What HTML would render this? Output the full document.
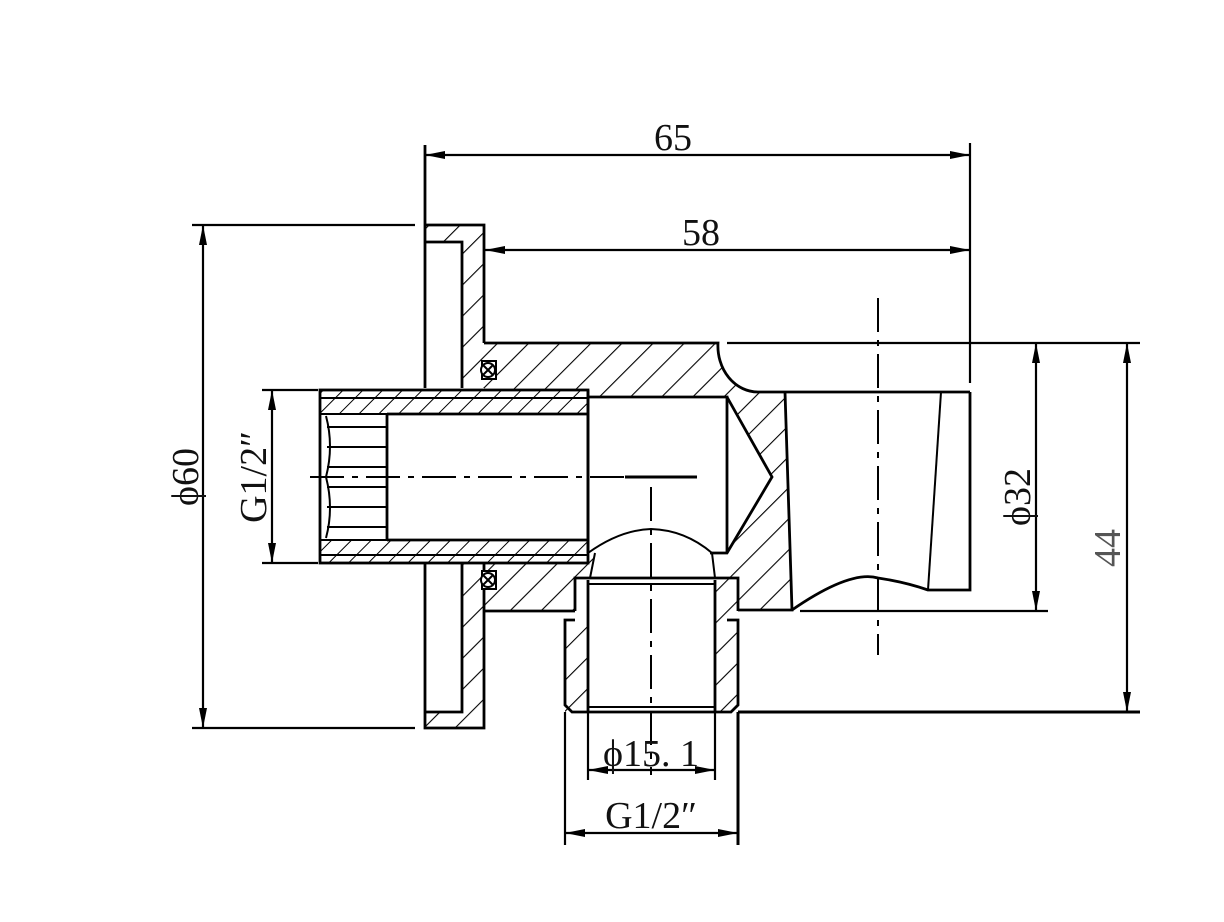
<!DOCTYPE html>
<html><head><meta charset="utf-8"><style>
html,body{margin:0;padding:0;background:#fff;}
svg{display:block;}
text{font-family:"Liberation Serif","Noto Serif CJK SC",serif;fill:#111;}
</style></head><body>
<svg width="1224" height="922" viewBox="0 0 1224 922" xmlns="http://www.w3.org/2000/svg">
<defs>
<pattern id="h" width="22" height="22" patternUnits="userSpaceOnUse" patternTransform="rotate(45)">
<line x1="0" y1="0" x2="0" y2="22" stroke="#000" stroke-width="2.2"/>
</pattern>
<pattern id="h2" width="14" height="14" patternUnits="userSpaceOnUse" patternTransform="rotate(45)">
<line x1="0" y1="0" x2="0" y2="14" stroke="#000" stroke-width="2"/>
</pattern>
<marker id="a" viewBox="0 0 20 8" refX="20" refY="4" markerWidth="20" markerHeight="8" markerUnits="userSpaceOnUse" orient="auto-start-reverse">
<path d="M0,0 L20,4 L0,8 z" fill="#000"/>
</marker>
</defs>

<g fill="url(#h)" stroke="none">
<path d="M425,225 H484 V388 H462 V242 H425 z"/>
<path d="M462,563 H484 V728 H425 V712 H462 z"/>
<path d="M484,343 H718 A40,46 0 0 0 758,392 H785 L792,610 H738 V578 H727 V553 L772,477 L727,397 H588 V390 H484 z"/>
<path d="M484,563 H588 V553 H595 L590,578 H575 V611 H484 z"/>
<path d="M565,620 H588 V712 H565 z"/>
<path d="M715,578 H738 V712 H715 z"/>
</g>
<g fill="url(#h2)" stroke="none">
<path d="M320,390 H588 V414 H387 V415 H320 z"/>
<path d="M320,540 H588 V563 H320 z"/>
</g>

<g stroke="#000" stroke-width="2.8" fill="none" stroke-linejoin="miter">
<path d="M425,225 H484 V343"/>
<path d="M425,145 V388"/>
<path d="M425,242 H462 V388"/>
<path d="M484,563 V728 H425 V563"/>
<path d="M425,712 H462 V563"/>
<path d="M484,343 H718 A40,46 0 0 0 758,392 H970"/>
<path d="M785,392 L792,610 H738"/>
<path d="M792,610 Q850,570 878,578 Q905,582 928,590 H970 V392"/>
<path d="M941,392 L928,590" stroke-width="2"/>
<path d="M588,397 H727 V553"/>
<path d="M727,397 L772,477 L727,553 H710"/>
<path d="M588,390 V553"/>
<path d="M484,611 H575"/>
<path d="M588,553 Q620,530 651,529 Q685,530 712,553 L715,578" stroke-width="2"/>
<path d="M595,553 L590,578" stroke-width="2"/>
<rect x="320" y="390" width="268" height="173"/>
<path d="M320,398 H588 M320,555 H588" stroke-width="2"/>
<path d="M387,414 H588 M387,540 H588 M387,414 V540"/>
<path d="M320,414 H387 M320,540 H387" stroke-width="2"/>
<path d="M327,427 H387 M327,447 H387 M327,467 H387 M327,487 H387 M327,507 H387 M327,527 H387" stroke-width="2"/>
<path d="M326,416 Q334,446 326,477 Q334,508 326,538" stroke-width="2"/>
<path d="M575,611 V578 H738 V611"/>
<path d="M588,580 V712 M715,580 V712"/>
<path d="M588,584 H715" stroke-width="2"/>
<path d="M575,620 H565 V705 L572,712 H731 L738,705 V620 H727" />
<path d="M588,707 H715" stroke-width="2"/>
</g>
<!-- o-rings -->
<g stroke="#000" stroke-width="2" fill="#fff">
<rect x="482" y="361" width="14" height="18"/>
<circle cx="488" cy="370" r="7"/>
<path d="M483,365 L493,375 M493,365 L483,375" fill="none"/>
<rect x="482" y="571" width="14" height="18"/>
<circle cx="488" cy="580" r="7"/>
<path d="M483,575 L493,585 M493,575 L483,585" fill="none"/>
</g>

<g stroke="#000" stroke-width="2" fill="none">
<path d="M310,477 H700" stroke-dasharray="34,8,6,8"/>
<path d="M625,477 H697" stroke-width="3"/>
<path d="M651,487 V775" stroke-dasharray="34,8,6,8"/>
<path d="M878,298 V655" stroke-dasharray="34,8,6,8"/>
</g>

<g stroke="#000" stroke-width="2.2" fill="none">
<path d="M970,143 V383"/>
<path d="M425,155 H970" marker-start="url(#a)" marker-end="url(#a)"/>
<path d="M485,250 H970" marker-start="url(#a)" marker-end="url(#a)"/>
<path d="M192,225 H415 M192,728 H415"/>
<path d="M203,225 V728" marker-start="url(#a)" marker-end="url(#a)"/>
<path d="M262,390 H318 M262,563 H318"/>
<path d="M272,390 V563" marker-start="url(#a)" marker-end="url(#a)"/>
<path d="M727,343 H1140"/>
<path d="M800,611 H1048"/>
<path d="M1036,343 V611" marker-start="url(#a)" marker-end="url(#a)"/>
<path d="M738,712 V845 M738,712 H1140" stroke-width="3"/>
<path d="M1127,343 V712" marker-start="url(#a)" marker-end="url(#a)"/>
<path d="M565,712 V845"/>
<path d="M588,712 V780 M715,712 V780"/>
<path d="M588,770 H715" marker-start="url(#a)" marker-end="url(#a)"/>
<path d="M565,833 H738" marker-start="url(#a)" marker-end="url(#a)"/>
</g>

<text x="673" y="150" font-size="38" text-anchor="middle">65</text>
<text x="701" y="245" font-size="38" text-anchor="middle">58</text>
<text x="651" y="766" font-size="38" text-anchor="middle">ϕ15. 1</text>
<text x="651" y="828" font-size="38" text-anchor="middle">G1/2″</text>
<text transform="translate(198,477) rotate(-90)" font-size="38" text-anchor="middle">ϕ60</text>
<text transform="translate(266,477) rotate(-90)" font-size="38" text-anchor="middle" fill="#333">G1/2″</text>
<text transform="translate(1030,497) rotate(-90)" font-size="38" text-anchor="middle">ϕ32</text>
<text transform="translate(1120,548) rotate(-90)" font-size="38" text-anchor="middle" style="fill:#555">44</text>
</svg>
</body></html>
